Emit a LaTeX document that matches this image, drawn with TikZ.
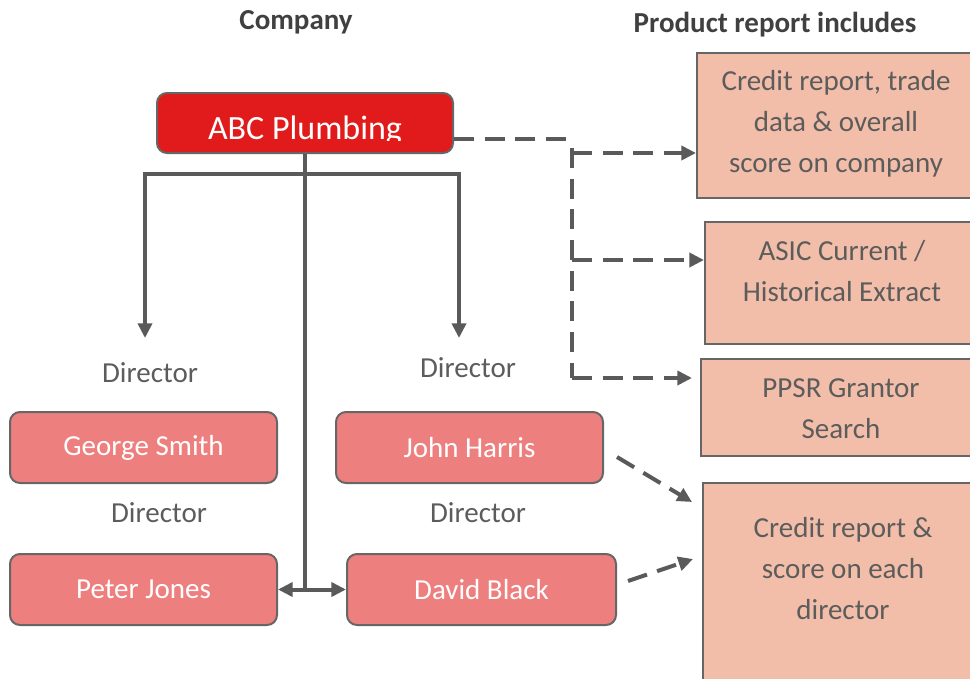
\documentclass[tikz,border=0pt]{standalone}
\usepackage{fontspec}
\setmainfont{Carlito}
\usetikzlibrary{arrows.meta,calc}

\definecolor{linegray}{HTML}{5A5A5A}
\definecolor{boxedge}{HTML}{666666}
\definecolor{textgray}{HTML}{5C5C5C}
\definecolor{headgray}{HTML}{404040}
\definecolor{abcred}{HTML}{E11B1B}
\definecolor{personfill}{HTML}{EE7F7F}
\definecolor{reportfill}{HTML}{F2BEA9}

\tikzset{
  person/.style={draw=boxedge, line width=1.5pt, fill=personfill, rounded corners=7.5pt,
    minimum width=200.25pt, minimum height=53.25pt, inner sep=0pt,
    text=white, font=\fontsize{21.75}{26}\selectfont},
  report/.style={draw=boxedge, line width=1.5pt, fill=reportfill, inner sep=0pt},
  rtext/.style={text=textgray, align=center, inner sep=0pt,
    font=\fontsize{21.75}{30.75}\selectfont},
  role/.style={text=textgray, inner sep=0pt, font=\fontsize{21.75}{26}\selectfont},
  heading/.style={text=headgray, inner sep=0pt, font=\bfseries\fontsize{21.75}{26}\selectfont},
  tree/.style={draw=linegray, line width=3pt},
  treearrow/.style={tree, -{Triangle[length=11pt,width=10.5pt]}},
  dashline/.style={draw=linegray, line width=3pt, dash pattern=on 15pt off 8pt},
  dasharrow/.style={dashline, -{Triangle[length=11pt,width=10.5pt]}}
}

\begin{document}
\begin{tikzpicture}[x=0.75pt,y=-0.75pt]
\useasboundingbox (0,0) rectangle (970,678);

% headings
\node[heading] (hcomp) at (296,22) {Company};
\node[heading] (hprod) at (775,25) {Product report includes};

% company box (its label runs past the lower edge and is cut off)
\node[draw=boxedge, line width=1.5pt, fill=abcred, rounded corners=7.5pt,
      minimum width=222pt, minimum height=45pt, inner sep=0pt] (abc) at (305,123) {};
\begin{scope}
  \clip (157,90) rectangle (453,140.5);
  \node[anchor=base, text=white, inner sep=0pt, font=\fontsize{25.5}{30}\selectfont]
    (abclabel) at (305,139.5) {ABC Plumbing};
\end{scope}

% directors
\node[role] (r1) at (150,373) {Director};
\node[role] (r2) at (468,368) {Director};
\node[role] (r3) at (159,513) {Director};
\node[role] (r4) at (478,513) {Director};

\node[person] (george) at (143.5,447.5) {George Smith};
\node[person] (john)   at (469.5,447.5) {John Harris};
\node[person] (peter)  at (143.5,589.5) {Peter Jones};
\node[person, minimum width=201.75pt] (david) at (481.5,589.5) {David Black};

% report boxes
\node[report, minimum width=208.5pt, minimum height=108.75pt] (b1) at (836,125.5) {};
\node[report, minimum width=205.5pt, minimum height=91.5pt]   (b2) at (842,283) {};
\node[report, minimum width=210pt,   minimum height=72.75pt]  (b3) at (841,407.5) {};
\node[report, minimum width=210pt,   minimum height=162.75pt] (b4) at (843,591.5) {};

\node[rtext] (t1) at (836,124) {Credit report, trade\\data \& overall\\score on company};
\node[rtext] (t2) at (842,271.5) {ASIC Current /\\Historical Extract};
\node[rtext] (t3) at (841,409) {PPSR Grantor\\Search};
\node[rtext] (t4) at (843,569) {Credit report \&\\score on each\\director};

% organisation tree
\coordinate (barL) at (145,174);
\coordinate (barR) at (459,174);
\coordinate (tipL) at (145,338);
\coordinate (tipR) at (459,338);
\draw[tree, line cap=butt] ($(barL)+(-2,0)$) -- ($(barR)+(2,0)$);
\draw[treearrow] (barL) -- (tipL);
\draw[treearrow] (barR) -- (tipR);
\draw[treearrow] (abc.south) -- (abc.south |- peter.east) -- (peter.east);
\draw[treearrow] (abc.south |- david.west) -- (david.west);

% product links
\coordinate (dA) at (568,139);
\coordinate (dT) at (572,148);
\coordinate (d1) at (572,153);
\coordinate (d2) at (572,260);
\coordinate (d3) at (572,378);
\draw[dashline] (abc.east |- dA) -- (dA);
\draw[dashline] (dT) -- (d3);
\draw[dasharrow] (d1) -- (d1 -| b1.west);
\draw[dasharrow] (d2) -- (d2 -| b2.west);
\draw[dasharrow, shorten >=6pt] (d3) -- (d3 -| b3.west);

\coordinate (jh0) at (617,457);
\coordinate (jh1) at (692,502);
\coordinate (db0) at (628,581);
\coordinate (db1) at (693,559);
\draw[dasharrow] (jh0) -- (jh1);
\draw[dasharrow] (db0) -- (db1);
\end{tikzpicture}
\end{document}
